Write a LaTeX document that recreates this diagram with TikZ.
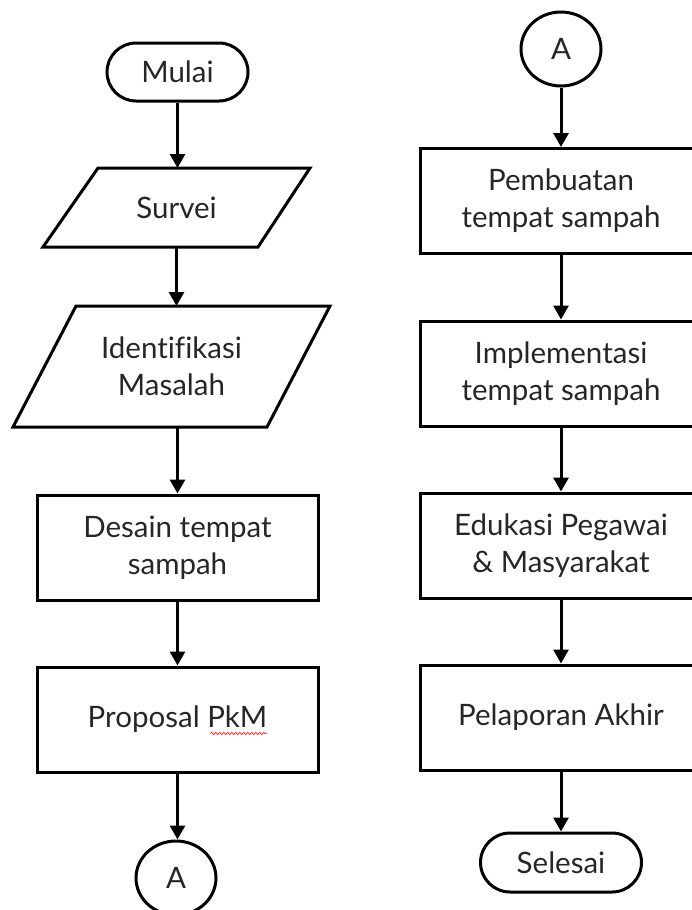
\documentclass[tikz,border=0pt]{standalone}
\usepackage{fontspec}
\setmainfont{Lato}[Ligatures=CommonOff]
\usetikzlibrary{arrows.meta,shapes.misc,shapes.geometric,decorations.pathmorphing}
\begin{document}
\begin{tikzpicture}[x=1pt,y=-1pt,
  every node/.style={font=\fontsize{29.5}{37}\selectfont, text=black!85, align=center},
  ln/.style={line width=3pt, draw=black},
  arr/.style={line width=3pt, draw=black, -{Triangle[length=14pt,width=15pt]}},
  pill/.style={rounded rectangle, ln, minimum width=141pt, minimum height=58pt, inner sep=0pt},
  procbox/.style={rectangle, ln, minimum width=281pt, minimum height=105pt, inner sep=0pt},
  parbox/.style={rectangle, inner sep=0pt, outer sep=0pt},
  conn/.style={ellipse, ln, minimum width=80pt, minimum height=74pt, inner sep=0pt}
]
\useasboundingbox (0,0) rectangle (692,910);
\clip (0,0) rectangle (692,910);

% left column
\node[pill] (mulai) at (177.5,72) {Mulai};
\node[parbox, minimum width=267pt, minimum height=79pt] (surv) at (176.5,207.5) {Survei};
\draw[ln] ([xshift=55pt]surv.north west) -- (surv.north east) -- ([xshift=-52pt]surv.south east) -- (surv.south west) -- cycle;
\node[parbox, minimum width=317pt, minimum height=121pt] (iden) at (171.5,366.5) {Identifikasi\\Masalah};
\draw[ln] ([xshift=63pt]iden.north west) -- (iden.north east) -- ([xshift=-63pt]iden.south east) -- (iden.south west) -- cycle;
\node[procbox] (desain) at (177.5,547.5) {Desain tempat\\sampah};
\node[procbox] (prop) at (177.5,719.5) {Proposal PkM};
\draw[red!80, line width=0.8pt, decorate, decoration={snake, amplitude=1.2pt, segment length=4pt}]
  ([xshift=33pt,yshift=-14pt]prop.center) coordinate (sq1) -- ([xshift=89pt,yshift=-14pt]prop.center) coordinate (sq2);
\node[conn] (aleft) at (176,878) {A};

\draw[arr] (mulai.south) -- (mulai.south |- surv.north);
\draw[arr] (surv.south) -- (surv.south |- iden.north);
\draw[arr] (desain.north |- iden.south) -- (desain.north);
\draw[arr] (desain.south) -- (prop.north);
\draw[arr] (prop.south) -- (prop.south |- aleft.north);

% right column
\node[conn] (aright) at (561,49) {A};
\node[procbox] (pemb) at (561,201) {Pembuatan\\tempat sampah};
\node[procbox] (impl) at (561,373.5) {Implementasi\\tempat sampah};
\node[procbox] (edu) at (561,545.5) {Edukasi Pegawai\\\& Masyarakat};
\node[procbox] (lap) at (561,717.5) {Pelaporan Akhir};
\node[pill, minimum width=161pt, minimum height=59pt] (selesai) at (561,862.5) {Selesai};

\draw[arr] (aright.south) -- (pemb.north);
\draw[arr] (pemb.south) -- (impl.north);
\draw[arr] (impl.south) -- (edu.north);
\draw[arr] (edu.south) -- (lap.north);
\draw[arr] (lap.south) -- (selesai.north);
\end{tikzpicture}
\end{document}
